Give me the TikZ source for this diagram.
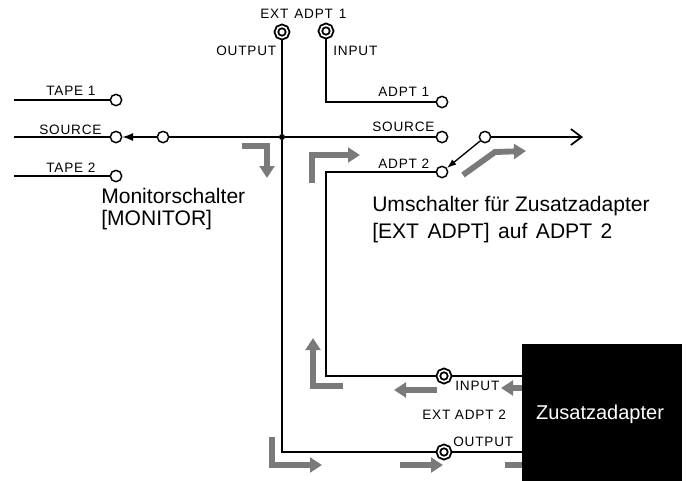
\documentclass[tikz,border=0pt]{standalone}
\usepackage{fontspec}
\setmainfont{Liberation Sans}
\usetikzlibrary{arrows.meta}
\newcommand{\smalllabel}{\fontsize{10.2pt}{12pt}\selectfont\addfontfeatures{LetterSpace=6}}
\newcommand{\biglabel}{\fontsize{15.8pt}{19pt}\selectfont}
\tikzset{
  wire/.style={line width=1.3pt,black},
  sig/.style={line width=1pt,black},
  pin/.style={circle,draw=black,fill=white,line width=1.1pt,minimum size=8.5pt,inner sep=0pt},
  jack/.style={circle,draw=black,double=white,double distance=1.2pt,line width=1.4pt,fill=white,minimum size=8.5pt,inner sep=0pt},
  tiny/.style={anchor=base west,inner sep=0pt,font=\smalllabel},
  big/.style={anchor=base west,inner sep=0pt,font=\biglabel},
  flow/.style={line width=4.4pt,draw=black!52,line join=miter,-{Triangle[length=9pt,width=11pt]}},
  flowplain/.style={line width=4.4pt,draw=black!52},
  unit/.style={fill=black,draw=black,inner sep=0pt,minimum width=119.5pt,minimum height=102pt},
  unittext/.style={text=white,inner sep=0pt,font=\fontsize{15pt}{18pt}\selectfont}
}
\begin{document}
\begin{tikzpicture}[x=0.75pt,y=-0.75pt]
\useasboundingbox (0,0) rectangle (686,480);
% grey signal-path arrows (under the box)
\draw[flow] (242,146) -- (267,146) -- (267,178);
\draw[flow] (312,183) -- (312,155) -- (360,155);
\draw[flow] (463,175) -- (495,152) -- (526,151);
\draw[flow] (343,386) -- (313,386) -- (313,338);
\draw[flow] (437,390) -- (394,390);
\draw[flow] (530,388) -- (501,388);
\draw[flow] (272,437) -- (272,465) -- (322,465);
\draw[flow] (400,465) -- (443,465);
\draw[flowplain] (505,465) -- (530,465);
% unit
\node[unit] (box) at (602,412) {};
\node[unittext] (boxtext) at (600,414) {Zusatzadapter};
% contacts
\node[jack] (jo1) at (282,32) {};
\node[jack] (ji1) at (326,31) {};
\node[jack] (ji2) at (444,376) {};
\node[jack] (jo2) at (444,452) {};
\node[pin] (t1) at (116,100) {};
\node[pin] (so) at (116,137) {};
\node[pin] (t2) at (116,176) {};
\node[pin] (mon) at (163,137) {};
\node[pin] (a1) at (442,102) {};
\node[pin] (sr) at (442,137) {};
\node[pin] (a2) at (442,172) {};
\node[pin] (sw) at (485,137) {};
\coordinate (t1in) at (14,100);
\coordinate (soin) at (14,137);
\coordinate (t2in) at (14,176);
\coordinate (out) at (583,137);
\node[circle,fill=black,inner sep=0pt,minimum size=4.5pt] (dot) at (282,137) {};
% wires
\draw[wire] (t1in) -- (t1);
\draw[wire] (soin) -- (so);
\draw[wire] (t2in) -- (t2);
\draw[sig,-{Latex[length=8pt,width=6pt]}] (mon) -- (so);
\draw[wire] (mon) -- (dot) -- (sr);
\draw[wire] (jo1) -- (dot) -- (dot |- jo2) -- (jo2);
\draw[wire] (jo2) -- (box.west |- jo2);
\draw[wire] (ji1) -- (ji1 |- a1) -- (a1);
\draw[wire] (ji2) -- (ji2 -| ji1) -- (ji1 |- a2) -- (a2);
\draw[wire] (ji2) -- (box.west |- ji2);
\draw[sig,-{Latex[length=7pt,width=5pt]}] (sw) -- (a2);
\draw[wire,-{Straight Barb[length=8pt,width=12pt]}] (sw) -- (out);
% labels
\node[tiny] (lext) at (260,18) {EXT\hspace{1pt} ADPT\hspace{1pt} 1};
\node[tiny] (lo1) at (216,55) {OUTPUT};
\node[tiny] (li1) at (333,55) {INPUT};
\node[tiny] (lt1) at (46,95) {TAPE 1};
\node[tiny] (ls1) at (39,134) {SOURCE};
\node[tiny] (lt2) at (46,172) {TAPE 2};
\node[tiny] (la1) at (378,96) {ADPT 1};
\node[tiny] (ls2) at (372,131) {SOURCE};
\node[tiny] (la2) at (378,168) {ADPT 2};
\node[tiny] (li2) at (455,390) {INPUT};
\node[tiny] (lx2) at (422,419) {EXT ADPT 2};
\node[tiny] (lo2) at (453,446) {OUTPUT};
\node[big] (m1) at (101,203) {Monitorschalter};
\node[big] (m2) at (101,225) {[MONITOR]};
\node[big] (u1) at (372,211) {Umschalter für Zusatzadapter};
\node[big] (u2) at (372,238) {[EXT\hspace{2pt} ADPT]\hspace{2pt} auf\hspace{2pt} ADPT\hspace{2pt} 2};
\end{tikzpicture}
\end{document}
